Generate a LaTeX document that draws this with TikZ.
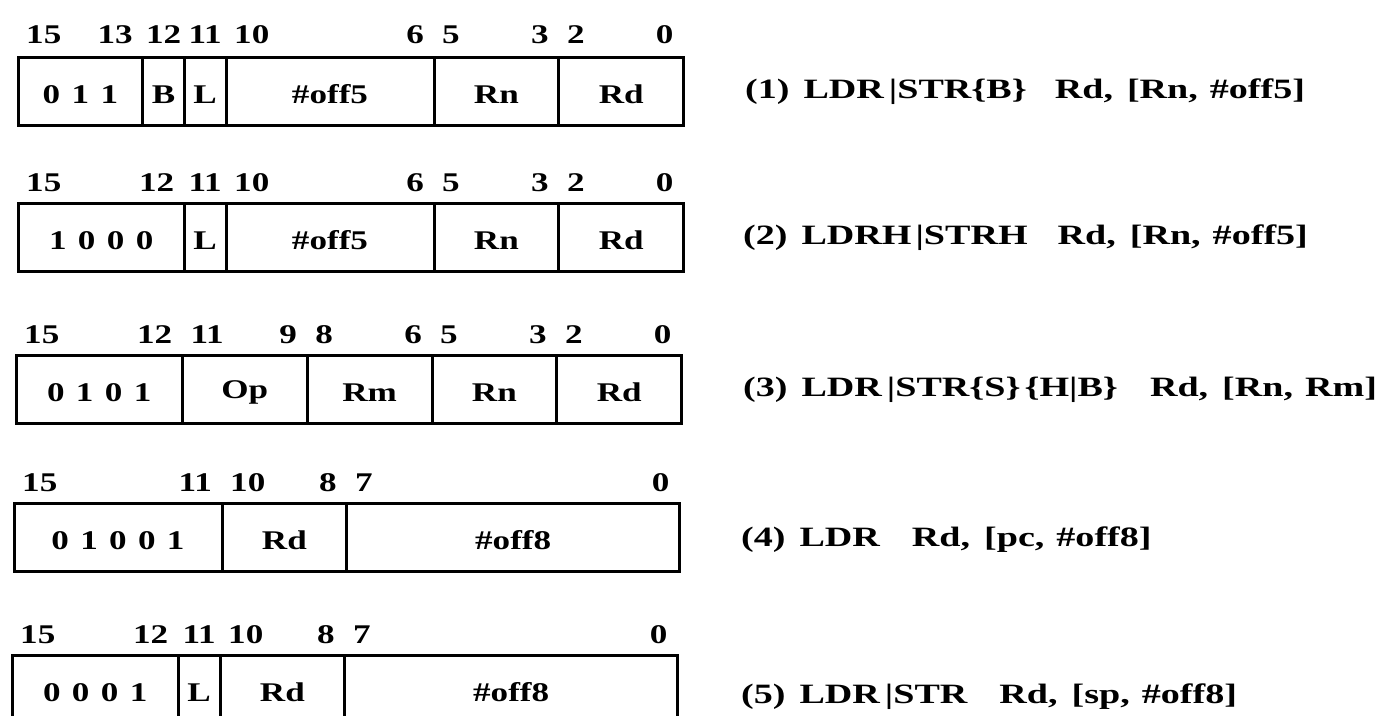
\documentclass[tikz,border=0pt]{standalone}
\usepackage{fontspec}
\setmainfont{Liberation Serif}[FakeStretch=1.3]
\newfontfamily\instrfont{Liberation Serif}[FakeStretch=1.36]
\usetikzlibrary{positioning}

\tikzset{
    field/.style={draw, line width=3pt, minimum height=68pt, inner sep=0pt, outer sep=0pt,
        text height=25pt, font=\fontsize{27}{32}\selectfont\bfseries,
        execute at begin node={\spaceskip=0.42em\relax}},
    bits/.style={minimum width=#1*41.6pt},
    bitno/.style={inner sep=0pt, font=\fontsize{27}{32}\selectfont\bfseries},
    bhi/.style={anchor=west, xshift=-12.8pt},
    blo/.style={anchor=east, xshift=10.8pt},
    bmid/.style={},
    instr/.style={anchor=west, inner sep=0pt, font=\instrfont\fontsize{28}{32}\selectfont\bfseries}
}

\begin{document}
\begin{tikzpicture}[x=1pt, y=-1pt]
    \useasboundingbox (0,0) rectangle (1380,715);

    % format 1
    \node[field, bits=3, anchor=north west] (r1a) at (18,57) {0 1 1};
    \node[field, bits=1, right=0pt of r1a] (r1b) {B};
    \node[field, bits=1, right=0pt of r1b] (r1c) {L};
    \node[field, bits=5, right=0pt of r1c] (r1d) {\#off5};
    \node[field, bits=3, right=0pt of r1d] (r1e) {Rn};
    \node[field, bits=3, right=0pt of r1e] (r1f) {Rd};
    \foreach \b/\a in {15/bhi,13/blo,12/bmid,11/bmid,10/bhi,6/blo,5/bhi,3/blo,2/bhi,0/blo}
        \node[bitno, \a] (r1n\b) at ({18+(15.5-\b)*41.6}, 35) {\b};
    \node[instr] (t1) at (745,92) {(1)\hspace{14pt}LDR\hspace{5pt}|STR\{B\}\hspace{28pt}Rd,\hspace{14pt}[Rn,\hspace{12pt}\#off5]};

    % format 2
    \node[field, bits=4, anchor=north west] (r2a) at (18,203) {1 0 0 0};
    \node[field, bits=1, right=0pt of r2a] (r2b) {L};
    \node[field, bits=5, right=0pt of r2b] (r2c) {\#off5};
    \node[field, bits=3, right=0pt of r2c] (r2d) {Rn};
    \node[field, bits=3, right=0pt of r2d] (r2e) {Rd};
    \foreach \b/\a in {15/bhi,12/blo,11/bmid,10/bhi,6/blo,5/bhi,3/blo,2/bhi,0/blo}
        \node[bitno, \a] (r2n\b) at ({18+(15.5-\b)*41.6}, 183) {\b};
    \node[instr] (t2) at (743,238) {(2)\hspace{14pt}LDRH\hspace{4pt}|STRH\hspace{30pt}Rd,\hspace{14pt}[Rn,\hspace{12pt}\#off5]};

    % format 3
    \node[field, bits=4, anchor=north west] (r3a) at (16,355) {0 1 0 1};
    \node[field, bits=3, right=0pt of r3a] (r3b) {Op};
    \node[field, bits=3, right=0pt of r3b] (r3c) {Rm};
    \node[field, bits=3, right=0pt of r3c] (r3d) {Rn};
    \node[field, bits=3, right=0pt of r3d] (r3e) {Rd};
    \foreach \b/\a in {15/bhi,12/blo,11/bhi,9/blo,8/bhi,6/blo,5/bhi,3/blo,2/bhi,0/blo}
        \node[bitno, \a] (r3n\b) at ({16+(15.5-\b)*41.6}, 335) {\b};
    \node[instr] (t3) at (743,390) {(3)\hspace{14pt}LDR\hspace{5pt}|STR\{S\}\hspace{4pt}\{H|B\}\hspace{32pt}Rd,\hspace{14pt}[Rn,\hspace{12pt}Rm]};

    % format 4
    \node[field, bits=5, anchor=north west] (r4a) at (14,503) {0 1 0 0 1};
    \node[field, bits=3, right=0pt of r4a] (r4b) {Rd};
    \node[field, bits=8, right=0pt of r4b] (r4c) {\#off8};
    \foreach \b/\a in {15/bhi,11/blo,10/bhi,8/blo,7/bhi,0/blo}
        \node[bitno, \a] (r4n\b) at ({14+(15.5-\b)*41.6}, 483) {\b};
    \node[instr] (t4) at (741,540) {(4)\hspace{14pt}LDR\hspace{32pt}Rd,\hspace{14pt}[pc,\hspace{12pt}\#off8]};

    % format 5
    \node[field, bits=4, anchor=north west] (r5a) at (12,655) {0 0 0 1};
    \node[field, bits=1, right=0pt of r5a] (r5b) {L};
    \node[field, bits=3, right=0pt of r5b] (r5c) {Rd};
    \node[field, bits=8, right=0pt of r5c] (r5d) {\#off8};
    \foreach \b/\a in {15/bhi,12/blo,11/bmid,10/bhi,8/blo,7/bhi,0/blo}
        \node[bitno, \a] (r5n\b) at ({12+(15.5-\b)*41.6}, 635) {\b};
    \node[instr] (t5) at (741,697) {(5)\hspace{14pt}LDR\hspace{5pt}|STR\hspace{32pt}Rd,\hspace{14pt}[sp,\hspace{12pt}\#off8]};
\end{tikzpicture}
\end{document}
